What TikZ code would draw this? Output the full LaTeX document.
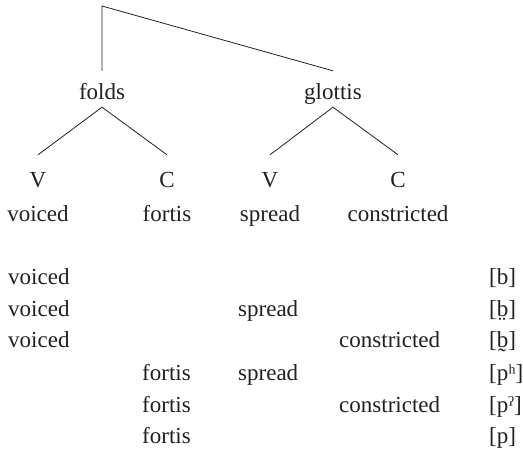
\documentclass[tikz,border=0pt]{standalone}
\usepackage{fontspec}
\setmainfont{Liberation Serif}
\definecolor{ink}{RGB}{35,31,32}
\tikzset{
  lbl/.style={inner sep=0pt, text height=16pt, text depth=5pt, text=ink,
              font=\fontsize{23}{28}\selectfont},
  tree/.style={draw=ink, line width=0.8pt},
}
\begin{document}
\begin{tikzpicture}[x=1pt, y=-1pt]
\useasboundingbox (0,0) rectangle (523,451);

% tree skeleton
\coordinate (root) at (102,6);
\node[lbl, anchor=base] (folds)   at (102,99) {folds};
\node[lbl, anchor=base] (glottis) at (333,99) {glottis};
\node[lbl, anchor=base] (fV) at (38,187)  {V};
\node[lbl, anchor=base] (fC) at (167,187) {C};
\node[lbl, anchor=base] (gV) at (270,187) {V};
\node[lbl, anchor=base] (gC) at (398,187) {C};

% values under each terminal
\node[lbl, anchor=base] (fVv) at (38,221)  {voiced};
\node[lbl, anchor=base] (fCv) at (167,221) {fortis};
\node[lbl, anchor=base] (gVv) at (270,221) {spread};
\node[lbl, anchor=base] (gCv) at (398,221) {constricted};

\draw[tree] ([yshift=12pt]folds.north) -- (root) -- ([yshift=12pt]glottis.north);
\draw[tree] ([yshift=16pt]fV.north) -- ([yshift=-3pt]folds.south) -- ([yshift=16pt]fC.north);
\draw[tree] ([yshift=16pt]gV.north) -- ([yshift=-3pt]glottis.south) -- ([yshift=16pt]gC.north);

% feature combinations and resulting sounds
\begin{scope}[every node/.append style={lbl, anchor=base west}]
\node (r1a) at (8,284)   {voiced};
\node (r1s) at (489,284) {[b]};
\node (r2a) at (8,316)   {voiced};
\node (r2c) at (238,316) {spread};
\node (r2s) at (489,316) {[b^^^^0324]};
\node (r3a) at (8,347)   {voiced};
\node (r3d) at (339,347) {constricted};
\node (r3s) at (489,347) {[b^^^^0330]};
\node (r4b) at (142,380) {fortis};
\node (r4c) at (238,380) {spread};
\node (r4s) at (489,380) {[p^^^^02b0]};
\node (r5b) at (142,412) {fortis};
\node (r5d) at (339,412) {constricted};
\node (r5s) at (489,412) {[p^^^^02c0]};
\node (r6b) at (142,443) {fortis};
\node (r6s) at (489,443) {[p]};
\end{scope}
\end{tikzpicture}
\end{document}
